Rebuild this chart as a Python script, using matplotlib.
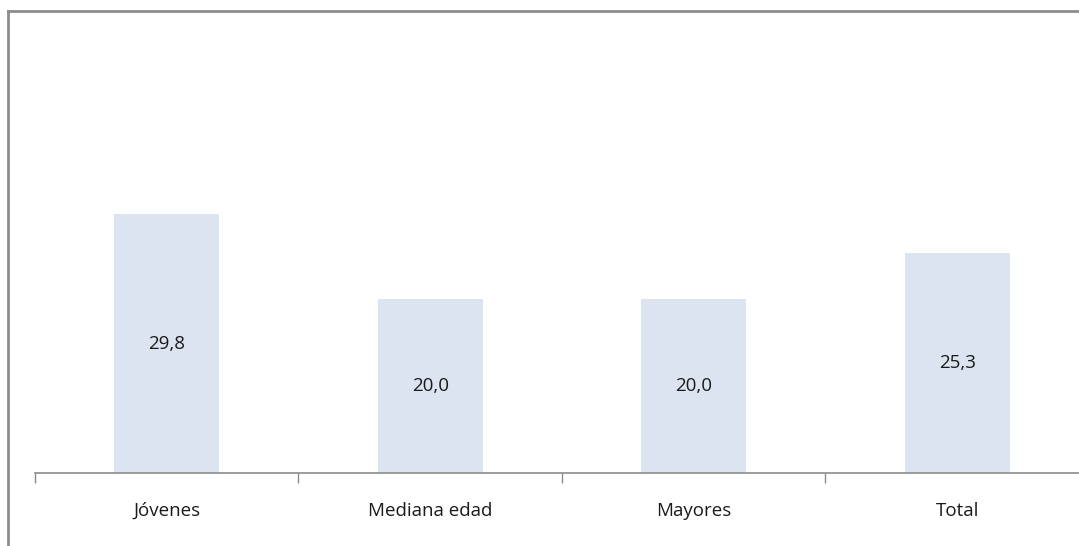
import matplotlib.pyplot as plt
from matplotlib.lines import Line2D
import numpy as np

# datos
categorias = ['Jóvenes', 'Mediana edad', 'Mayores', 'Total']
valores = [29.8, 20.0, 20.0, 25.3]

W, H = 1079, 546
fig = plt.figure(figsize=(W / 100, H / 100), dpi=100)
plt.rcParams['font.family'] = ['Open Sans', 'DejaVu Sans']

# eje: baseline at y=473 px, 8.69 px per unit
left, base = 35, 473
ymax = 35
alto = ymax * 8.69
ax = fig.add_axes([left / W, (H - base) / H, 263.5 * 4 / W, alto / H])

x = np.arange(len(categorias))
barras = ax.bar(x, valores, width=0.4, color='#dbe4f0', zorder=2)

for b, v in zip(barras, valores):
    ax.text(b.get_x() + b.get_width() / 2, v / 2, f'{v:.1f}'.replace('.', ','),
            ha='center', va='center', fontsize=13.5, color='#1a1a1a')

ax.set_xlim(-0.5, len(categorias) - 0.5)
ax.set_ylim(0, ymax)
ax.set_yticks([])
ax.set_xticks(x)
ax.set_xticklabels(categorias, fontsize=13.5, color='#1a1a1a')
ax.tick_params(axis='x', which='major', length=0, pad=21)
ax.set_xticks(np.arange(-0.5, len(categorias), 1), minor=True)
ax.tick_params(axis='x', which='minor', length=7, color='#8c8c8c', width=1)

for s in ['top', 'right', 'left']:
    ax.spines[s].set_visible(False)
ax.spines['bottom'].set_color('#8c8c8c')
ax.spines['bottom'].set_linewidth(1.2)

# borde del grafico (arriba e izquierda)
fig.add_artist(Line2D([8 / W, 1], [1 - 11 / H, 1 - 11 / H], color='#8c8c8c', lw=2, transform=fig.transFigure))
fig.add_artist(Line2D([8 / W, 8 / W], [0, 1 - 11 / H], color='#8c8c8c', lw=2, transform=fig.transFigure))

fig.savefig('out.png', dpi=100)
